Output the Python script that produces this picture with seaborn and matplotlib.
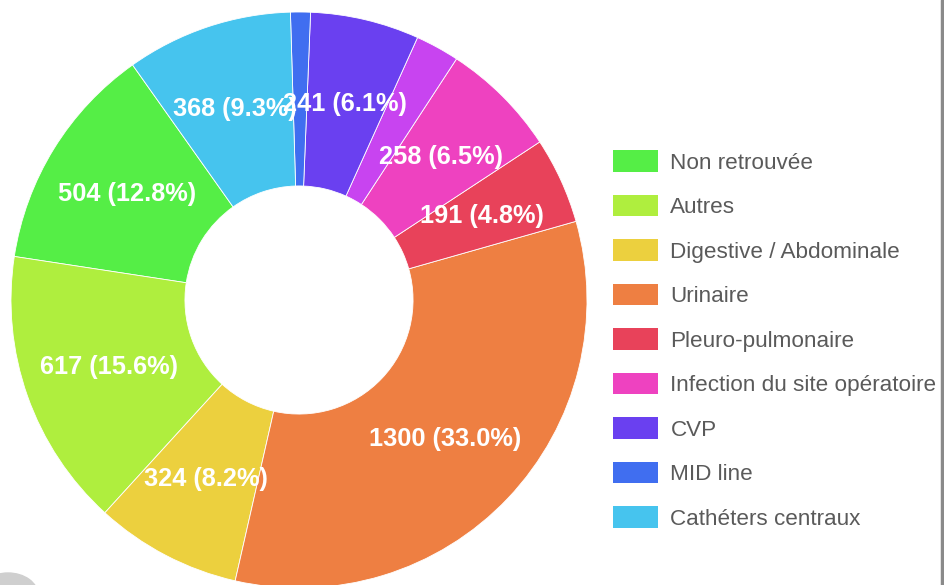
import matplotlib
matplotlib.use("Agg")
import matplotlib.pyplot as plt
import seaborn as sns
from matplotlib.lines import Line2D
from matplotlib.patches import Ellipse

# Data (counter-clockwise order, as in the legend; one unnamed small slice)
categories = ["Non retrouvée", "Autres", "Digestive / Abdominale", "Urinaire",
              "Pleuro-pulmonaire", "Infection du site opératoire", "",
              "CVP", "MID line", "Cathéters centraux"]
values = [504, 617, 324, 1300, 191, 258, 97, 241, 44, 368]
colors = ["#55ee46", "#afee3e", "#ecd03e", "#ee7f42", "#e8425a", "#ee42c0",
          "#c844f0", "#6a40f0", "#406ef0", "#46c4ee"]

sns.set_theme(style="white")
plt.rcParams["font.family"] = ["Liberation Sans", "DejaVu Sans"]

W, H = 944, 585
fig = plt.figure(figsize=(W / 100, H / 100), dpi=100)
fig.patch.set_facecolor("white")

cx, cy, R = 299, 300, 288
ax = fig.add_axes([(cx - R) / W, (H - cy - R) / H, 2 * R / W, 2 * R / H])
ax.set_xlim(-1, 1)
ax.set_ylim(-1, 1)
ax.set_aspect("equal")
ax.axis("off")

total = sum(values)


def fmt(pct):
    val = pct * total / 100.0
    if val < 150:
        return ""
    return f"{int(round(val))} ({pct:.1f}%)"


wedges, texts, autotexts = ax.pie(
    values, colors=colors, startangle=125.3, counterclock=True, radius=1,
    autopct=fmt, pctdistance=0.70,
    wedgeprops=dict(width=0.604, edgecolor="white", linewidth=0.6),
    textprops=dict(color="white", fontsize=18.3, fontweight="bold"),
)
ax.set_xlim(-1, 1)
ax.set_ylim(-1, 1)

handles = [w for w, c in zip(wedges, categories) if c]
labels = [c for c in categories if c]
leg = fig.legend(handles, labels, loc="upper left",
                 bbox_to_anchor=(613 / W, 1 - 150 / H),
                 frameon=False, fontsize=16.2, handlelength=2.0,
                 handleheight=1.12, handletextpad=0.55, labelspacing=0.93,
                 borderpad=0, borderaxespad=0)
for t in leg.get_texts():
    t.set_color("#5a5a5a")
for h in leg.legend_handles:
    h.set_edgecolor("none")

# screenshot frame remnants
fig.add_artist(Line2D([941.5 / W, 941.5 / W], [0, 1], color="#8a8a8a",
                      linewidth=2.5, transform=fig.transFigure))
fig.add_artist(Ellipse((8 / W, -10 / H), 60 / W, 44 / H, color="#cfcfcf",
                       transform=fig.transFigure))

fig.savefig("out.png", dpi=100)
